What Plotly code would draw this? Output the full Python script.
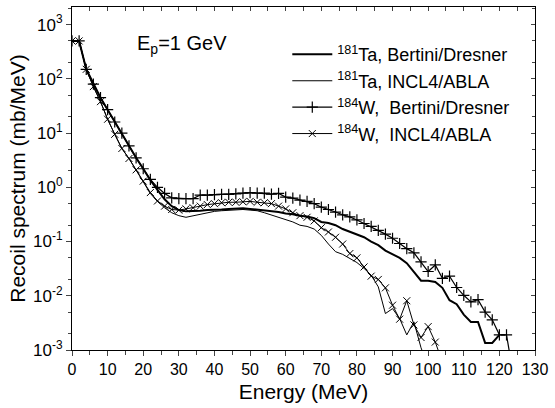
import plotly.graph_objects as go

# ---- data ----
energy = list(range(0, 124, 2))  # 0,2,...,122

w_bertini = [500, 500, 150, 80, 45, 27, 16, 10, 5.8, 3.5, 2.2, 1.4, 1.0, 0.77, 0.64, 0.62,
             0.62, 0.62, 0.72, 0.72, 0.73, 0.74, 0.74, 0.76, 0.78, 0.80, 0.78, 0.78, 0.75,
             0.77, 0.66, 0.63, 0.58, 0.55, 0.50, 0.43, 0.39, 0.35, 0.31, 0.285, 0.25, 0.215,
             0.19, 0.16, 0.137, 0.115, 0.092, 0.074, 0.062, 0.042, 0.028, 0.037, 0.021, 0.023,
             0.0142, 0.0102, 0.0077, 0.0085, 0.005, 0.0036, 0.0019, 0.0019]
w_bertini_tail_e = [123.5]
w_bertini_tail_v = [0.0005]

w_incl = [500, 500, 150, 72, 38, 18, 9.5, 5.2, 3.4, 2.1, 1.3, 0.8, 0.56, 0.45, 0.39, 0.38,
          0.40, 0.42, 0.45, 0.48, 0.50, 0.52, 0.53, 0.53, 0.54, 0.55, 0.53, 0.52, 0.50,
          0.45, 0.40, 0.34, 0.30, 0.28, 0.24, 0.18, 0.15, 0.12, 0.09, 0.06, 0.05, 0.034,
          0.023, 0.02, 0.014, 0.0067, 0.0037, 0.0081, 0.0029, 0.0017, 0.0027, 0.0014]
w_incl_tail_e = [104]
w_incl_tail_v = [0.0006]

ta_bertini = [500, 500, 150, 80, 45, 27, 16, 10, 5.8, 3.5, 2.2, 1.35, 0.9, 0.6, 0.45, 0.38,
              0.36, 0.36, 0.37, 0.38, 0.38, 0.39, 0.40, 0.41, 0.41, 0.40, 0.39, 0.38, 0.37,
              0.35, 0.33, 0.32, 0.30, 0.29, 0.27, 0.23, 0.22, 0.20, 0.17, 0.15, 0.135, 0.12,
              0.10, 0.086, 0.068, 0.058, 0.05, 0.04, 0.028, 0.019, 0.019, 0.018, 0.014,
              0.0083, 0.0070, 0.0045, 0.0033, 0.0033, 0.00135, 0.00135, 0.0019]

ta_incl = [500, 500, 150, 72, 38, 18, 9.5, 5.2, 3.4, 2.1, 1.3, 0.77, 0.55, 0.42, 0.34, 0.30,
           0.28, 0.30, 0.32, 0.34, 0.36, 0.37, 0.38, 0.38, 0.39, 0.38, 0.37, 0.34, 0.31,
           0.28, 0.25, 0.23, 0.20, 0.19, 0.17, 0.13, 0.09, 0.065, 0.058, 0.048, 0.041,
           0.032, 0.024, 0.0146, 0.0047, 0.0058, 0.0038, 0.0019, 0.0033, 0.0011]
ta_incl_tail_e = [99.5]
ta_incl_tail_v = [0.0006]

x_ticks = list(range(0, 131, 10))
y_tickvals = [1e-3, 1e-2, 1e-1, 1, 10, 100, 1000]
y_ticktext = ["10<sup>-3</sup>", "10<sup>-2</sup>", "10<sup>-1</sup>", "10<sup>0</sup>",
              "10<sup>1</sup>", "10<sup>2</sup>", "10<sup>3</sup>"]

names = ["<sup>181</sup>Ta, Bertini/Dresner", "<sup>181</sup>Ta, INCL4/ABLA",
         "<sup>184</sup>W,  Bertini/Dresner", "<sup>184</sup>W,  INCL4/ABLA"]

FONT = "Liberation Sans, Arial, sans-serif"

fig = go.Figure()

fig.add_trace(go.Scatter(x=energy[:len(ta_bertini)], y=ta_bertini, mode="lines",
                         line=dict(color="black", width=2), name=names[0]))
fig.add_trace(go.Scatter(x=energy[:len(ta_incl)] + ta_incl_tail_e, y=ta_incl + ta_incl_tail_v,
                         mode="lines", line=dict(color="black", width=1), name=names[1]))
fig.add_trace(go.Scatter(x=energy[:len(w_bertini)] + w_bertini_tail_e,
                         y=w_bertini + w_bertini_tail_v, mode="lines+markers",
                         line=dict(color="black", width=1.2),
                         marker=dict(symbol="cross-thin-open", size=8,
                                     line=dict(color="black", width=1.2)),
                         name=names[2]))
fig.add_trace(go.Scatter(x=energy[:len(w_incl)] + w_incl_tail_e, y=w_incl + w_incl_tail_v,
                         mode="lines+markers", line=dict(color="black", width=1),
                         marker=dict(symbol="x-thin-open", size=7,
                                     line=dict(color="black", width=1)),
                         name=names[3]))

fig.add_annotation(text="E<sub>p</sub>=1 GeV", x=0.135, y=0.89, xref="paper", yref="paper",
                   xanchor="left", yanchor="middle", showarrow=False,
                   font=dict(size=20, color="black", family=FONT))

fig.update_layout(
    width=555, height=408,
    margin=dict(l=72, r=18, t=7, b=58),
    paper_bgcolor="white", plot_bgcolor="white",
    font=dict(family=FONT, color="black", size=14),
    showlegend=True,
    legend=dict(x=0.465, y=0.915, xanchor="left", yanchor="top",
                bgcolor="rgba(0,0,0,0)", font=dict(size=18, family=FONT),
                itemwidth=40, tracegroupgap=0),
    xaxis=dict(range=[0, 130], tickvals=x_ticks, ticks="outside", ticklen=5,
               minor=dict(ticks="outside", ticklen=4, dtick=5),
               showline=True, linecolor="black", linewidth=1.2, showgrid=False,
               zeroline=False, tickfont=dict(size=16),
               title=dict(text="Energy (MeV)", font=dict(size=21), standoff=7)),
    yaxis=dict(type="log", range=[-3, 3.325], tickvals=y_tickvals, ticktext=y_ticktext,
               ticks="outside", ticklen=5,
               minor=dict(ticks="outside", ticklen=3, showgrid=False),
               showline=True, linecolor="black", linewidth=1.2, showgrid=False,
               tickfont=dict(size=17),
               title=dict(text="Recoil spectrum (mb/MeV)", font=dict(size=21), standoff=1)),
    xaxis2=dict(range=[0, 130], overlaying="x", side="top", tickvals=x_ticks,
                ticks="inside", ticklen=4, minor=dict(ticks="inside", ticklen=4, dtick=5),
                showticklabels=False, showline=True, linecolor="black", linewidth=1.2,
                showgrid=False, zeroline=False),
    yaxis2=dict(type="log", range=[-3, 3.325], overlaying="y", side="right",
                tickvals=y_tickvals, ticks="inside", ticklen=4,
                minor=dict(ticks="inside", ticklen=3, showgrid=False),
                showticklabels=False, showline=True, linecolor="black", linewidth=1.2,
                showgrid=False),
)

# hidden helper trace so that the mirrored axes are drawn
fig.add_trace(go.Scatter(x=[None], y=[None], xaxis="x2", yaxis="y2", showlegend=False,
                         hoverinfo="skip"))

fig.write_html("out.html")
